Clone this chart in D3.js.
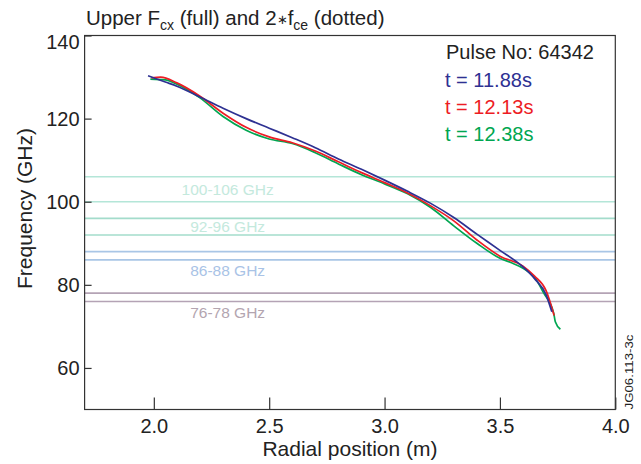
<!DOCTYPE html>
<html>
<head>
<meta charset="utf-8">
<script src="https://cdn.jsdelivr.net/npm/d3@7"></script>
<style>
  body { margin: 0; background: #fff; }
  svg { display: block; font-family: "Liberation Sans", Arial, Helvetica, sans-serif; }
</style>
</head>
<body>
<div id="chart"></div>
<script>
// series labels + colours
const seriesNames = ['t = 11.88s', 't = 12.13s', 't = 12.38s']
const seriesColors = ['#2e3192', '#ed1c24', '#00a651']

// radial position (m) and upper cut-off frequency (GHz)
const rBlue = [1.975, 2.05, 2.1, 2.2, 2.3, 2.4, 2.5, 2.6, 2.7, 2.8, 2.9, 3.0, 3.1, 3.2, 3.3, 3.4, 3.5, 3.6, 3.65, 3.7, 3.725]
const fBlue = [130.3, 128.8, 127.8, 125.2, 122.5, 120.0, 117.7, 115.4, 113.0, 110.3, 107.8, 105.2, 102.5, 99.6, 96.2, 92.2, 88.3, 84.3, 81.5, 77.6, 73.5]

const rRed = [1.99, 2.03, 2.1, 2.2, 2.3, 2.4, 2.5, 2.6, 2.7, 2.8, 2.9, 3.0, 3.1, 3.2, 3.3, 3.4, 3.5, 3.6, 3.65, 3.7, 3.735]
const fRed = [129.8, 130.0, 128.6, 125.4, 121.3, 117.9, 115.6, 114.2, 112.2, 109.6, 107.0, 104.6, 102.1, 99.0, 95.4, 90.8, 86.9, 84.5, 82.1, 78.6, 72.6]

const rGreen = [1.985, 2.05, 2.1, 2.2, 2.3, 2.4, 2.5, 2.6, 2.7, 2.8, 2.9, 3.0, 3.1, 3.2, 3.3, 3.4, 3.5, 3.55, 3.6, 3.65, 3.69, 3.733, 3.74, 3.762]
const fGreen = [129.5, 129.3, 128.3, 125.0, 120.5, 117.2, 115.1, 114.0, 111.8, 109.1, 106.5, 104.3, 101.9, 98.6, 94.2, 90.0, 86.4, 85.3, 84.0, 81.8, 78.0, 73.2, 71.1, 69.3]

// ECE channel bands (GHz)
const bandLow = [100, 92, 86, 76]
const bandHigh = [106, 96, 88, 78]
const bandLabels = ['100-106 GHz', '92-96 GHz', '86-88 GHz', '76-78 GHz']
const bandLineColors = ['#b4e6d8', '#a3dccb', '#a9c6e6', '#b4a3b5']
const bandTextColors = ['#c4e9dd', '#c4e9dd', '#a9c3e6', '#b3a5b0']

const xTicks = [2.0, 2.5, 3.0, 3.5, 4.0]
const yTicks = [60, 80, 100, 120, 140]

const width = 641, height = 464
const margin = { top: 35.5, right: 25.7, bottom: 54.5, left: 84.6 }

const svg = d3.select('#chart').append('svg')
    .attr('width', width)
    .attr('height', height)

const x = d3.scaleLinear().domain([1.7, 4.0]).range([margin.left, width - margin.right])
const y = d3.scaleLinear().domain([50, 140]).range([height - margin.bottom, margin.top])

// band lines
bandLow.forEach((lo, i) => {
    [lo, bandHigh[i]].forEach(f => {
        svg.append('line')
            .attr('x1', x.range()[0]).attr('x2', x.range()[1])
            .attr('y1', y(f)).attr('y2', y(f))
            .attr('stroke', bandLineColors[i])
            .attr('stroke-width', 1.6)
    })
    // wide bands get the label in between, narrow ones below
    let ly = (bandHigh[i] - lo) >= 4 ? y((lo + bandHigh[i]) / 2) : y(lo) + 11
    svg.append('text')
        .attr('x', x(2.32))
        .attr('y', ly)
        .attr('text-anchor', 'middle')
        .attr('dominant-baseline', 'central')
        .attr('font-size', 15.5)
        .attr('fill', bandTextColors[i])
        .text(bandLabels[i])
})

// curves
const line = d3.line()
    .x(d => x(d[0]))
    .y(d => y(d[1]))
    .curve(d3.curveMonotoneX)

const curves = [
    d3.zip(rBlue, fBlue),
    d3.zip(rRed, fRed),
    d3.zip(rGreen, fGreen)
]
// draw blue last so it sits on top like the original
;[2, 1, 0].forEach(i => {
    svg.append('path')
        .datum(curves[i])
        .attr('fill', 'none')
        .attr('stroke', seriesColors[i])
        .attr('stroke-width', 1.7)
        .attr('d', line)
})

// frame
const axisColor = '#333'
svg.append('rect')
    .attr('x', x.range()[0]).attr('y', y.range()[1])
    .attr('width', x.range()[1] - x.range()[0])
    .attr('height', y.range()[0] - y.range()[1])
    .attr('fill', 'none')
    .attr('stroke', axisColor)
    .attr('stroke-width', 1.2)

// x axis (ticks point inward)
const xAxis = svg.append('g')
    .attr('transform', `translate(0, ${y.range()[0]})`)
    .call(d3.axisBottom(x).tickValues(xTicks).tickFormat(d3.format('.1f')).tickSizeInner(-12).tickSizeOuter(0).tickPadding(10))
xAxis.select('.domain').remove()
xAxis.selectAll('line').attr('stroke', axisColor).attr('stroke-width', 1.2)
xAxis.selectAll('text').attr('font-size', 20).attr('fill', '#222').attr('font-family', null)
    .attr('y', 23).attr('dy', 0)

// y axis
const yAxis = svg.append('g')
    .attr('transform', `translate(${x.range()[0]}, 0)`)
    .call(d3.axisLeft(y).tickValues(yTicks).tickSizeInner(-7).tickSizeOuter(0).tickPadding(5))
yAxis.select('.domain').remove()
yAxis.selectAll('line').attr('stroke', axisColor).attr('stroke-width', 1.2)
yAxis.selectAll('text').attr('font-size', 20).attr('fill', '#222').attr('font-family', null)
    .attr('x', -5)
    .attr('dy', d => d == 140 ? '0.65em' : '0.35em')

// axis titles
svg.append('text')
    .attr('x', (x.range()[0] + x.range()[1]) / 2)
    .attr('y', 456)
    .attr('text-anchor', 'middle')
    .attr('font-size', 21)
    .attr('fill', '#222')
    .text('Radial position (m)')

svg.append('text')
    .attr('transform', `translate(32, ${(y.range()[0] + y.range()[1]) / 2 - 14}) rotate(-90)`)
    .attr('text-anchor', 'middle')
    .attr('font-size', 21)
    .attr('fill', '#222')
    .text('Frequency (GHz)')

// title with subscripts
const title = svg.append('text')
    .attr('x', 86)
    .attr('y', 25)
    .attr('font-size', 20.5)
    .attr('fill', '#222')
title.append('tspan').text('Upper F')
title.append('tspan').attr('font-size', 14).attr('dy', 5).text('cx')
title.append('tspan').attr('dy', -5).text(' (full) and 2')
title.append('tspan').attr('font-size', 13).attr('dy', -1).text('\u2217')
title.append('tspan').attr('dy', 1).text('f')
title.append('tspan').attr('font-size', 14).attr('dy', 5).text('ce')
title.append('tspan').attr('dy', -5).text(' (dotted)')

// legend
svg.append('text')
    .attr('x', 446).attr('y', 59.3)
    .attr('font-size', 20)
    .attr('fill', '#222')
    .text('Pulse No: 64342')
seriesNames.forEach((name, i) => {
    svg.append('text')
        .attr('x', 445)
        .attr('y', 86.6 + i * 27.3)
        .attr('font-size', 20)
        .attr('fill', seriesColors[i])
        .text(name)
})

// figure id, rotated along the right edge
svg.append('text')
    .attr('transform', `translate(633, ${y.range()[0]}) rotate(-90)`)
    .attr('font-size', 11.5)
    .attr('textLength', 75)
    .attr('lengthAdjust', 'spacingAndGlyphs')
    .attr('fill', '#222')
    .text('JG06.113-3c')
</script>
</body>
</html>
